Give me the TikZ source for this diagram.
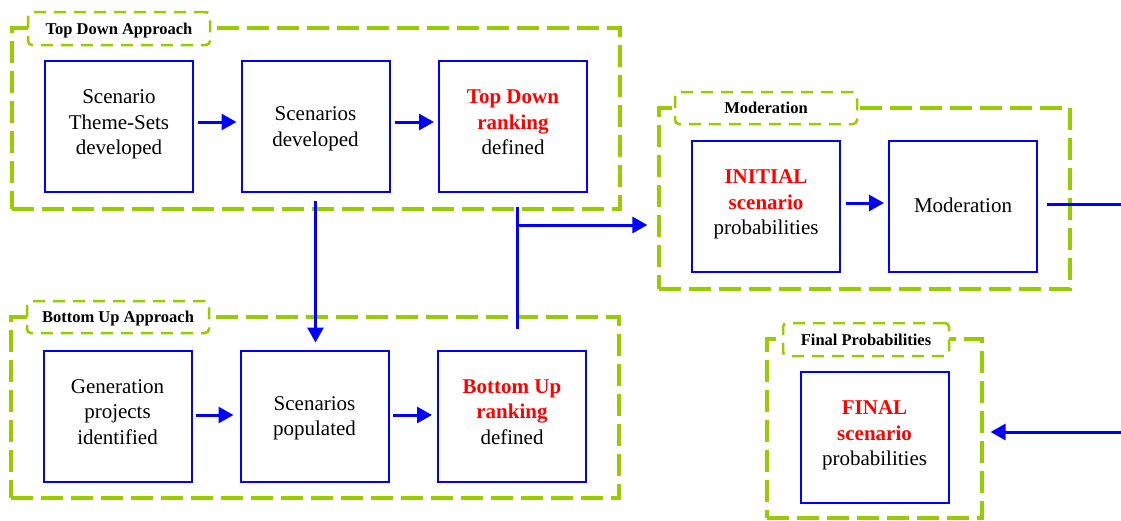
\documentclass[tikz,border=0pt]{standalone}
\usepackage{fontspec}
\setmainfont{Liberation Serif}
\usetikzlibrary{arrows.meta}
\definecolor{grp}{RGB}{153,204,0}
\definecolor{bblue}{RGB}{0,0,255}
\definecolor{rred}{RGB}{255,0,0}
\newcommand{\hl}[1]{\textcolor{rred}{\textbf{#1}}}
\begin{document}
\begin{tikzpicture}[x=1pt,y=-1pt,
  grpbox/.style={draw=grp, line width=3.2pt, dash pattern=on 22pt off 8pt, rectangle, inner sep=0pt},
  tabbox/.style={draw=grp, fill=white, line width=2.5pt, dash pattern=on 12pt off 8pt, rounded corners=4pt, inner sep=0pt, font=\fontsize{16.5}{19}\selectfont\bfseries, text depth=0pt},
  stepbox/.style={draw=bblue, line width=2pt, fill=white, minimum width=148pt, minimum height=131pt, inner sep=0pt, align=center, font=\fontsize{21}{25.5}\selectfont},
  threeline/.style={text depth=8pt},
  twoline/.style={text depth=0pt},
  conn/.style={draw=bblue, line width=3pt},
  arr/.style={conn, -{Triangle[length=15pt,width=16pt]}}
]
\useasboundingbox (0,0) rectangle (1121,520);

% groups
\node[grpbox, minimum width=608pt, minimum height=181pt] (gtop) at (316,118.5) {};
\node[tabbox, minimum width=182pt, minimum height=33pt] (ttop) at (119,28.5) {Top Down Approach};
\node[grpbox, minimum width=608pt, minimum height=181pt] (gbot) at (315,407.5) {};
\node[tabbox, minimum width=182pt, minimum height=32pt] (tbot) at (118,317) {Bottom Up Approach};
\node[grpbox, minimum width=411pt, minimum height=181pt] (gmod) at (864.5,198.5) {};
\node[tabbox, minimum width=182pt, minimum height=32pt] (tmod) at (766,108) {Moderation};
\node[grpbox, minimum width=215pt, minimum height=179pt] (gfin) at (874.5,428.5) {};
\node[tabbox, minimum width=166pt, minimum height=33pt] (tfin) at (866,339.5) {Final Probabilities};

% boxes
\node[stepbox, threeline] (b1) at (119,126.5) {Scenario\\Theme-Sets\\developed};
\node[stepbox, twoline] (b2) at (315.5,126.5) {Scenarios\\developed};
\node[stepbox, threeline] (b3) at (513,126.5) {\hl{Top Down}\\\hl{ranking}\\defined};
\node[stepbox, threeline] (b4) at (117.5,416) {Generation\\projects\\identified};
\node[stepbox, twoline] (b5) at (314.5,416) {Scenarios\\populated};
\node[stepbox, threeline] (b6) at (512,416) {\hl{Bottom Up}\\\hl{ranking}\\defined};
\node[stepbox, threeline] (b7) at (766,206.5) {\hl{INITIAL}\\\hl{scenario}\\probabilities};
\node[stepbox, text depth=2pt] (b8) at (963,206.5) {Moderation};
\node[stepbox, threeline] (b9) at (874.5,437.5) {\hl{FINAL}\\\hl{scenario}\\probabilities};

% connectors
\draw[arr, shorten <=4pt, shorten >=4pt] ([yshift=4.5pt]b1.east) -- ([yshift=4.5pt]b2.west);
\draw[arr, shorten <=4pt, shorten >=4pt] ([yshift=4.5pt]b2.east) -- ([yshift=4.5pt]b3.west);
\draw[arr, shorten <=3pt, shorten >=6pt] ([yshift=1pt]b4.east) -- ([yshift=1pt]b5.west);
\draw[arr, shorten <=3pt, shorten >=5pt] ([yshift=1pt]b5.east) -- ([yshift=1pt]b6.west);
\draw[arr, shorten <=5pt, shorten >=4pt] ([yshift=3.5pt]b7.east) -- ([yshift=3.5pt]b8.west);
\draw[arr, shorten <=8pt, shorten >=7pt] (b2.south) -- (b2.south |- b5.north);

\coordinate (r1) at (517,207);
\coordinate (r2) at (517,329);
\coordinate (rj) at (517,225);
\draw[conn] (r1) -- (r2);
\draw[arr, shorten >=10pt] (rj) -- (rj -| gmod.west);

\coordinate (eR1) at (1121,204);
\draw[conn, shorten <=9pt] ([yshift=2.5pt]b8.east) -- (eR1);
\coordinate (eR2) at (1121,432);
\draw[arr, shorten >=7pt] (eR2) -- (eR2 -| gfin.east);
\end{tikzpicture}
\end{document}
